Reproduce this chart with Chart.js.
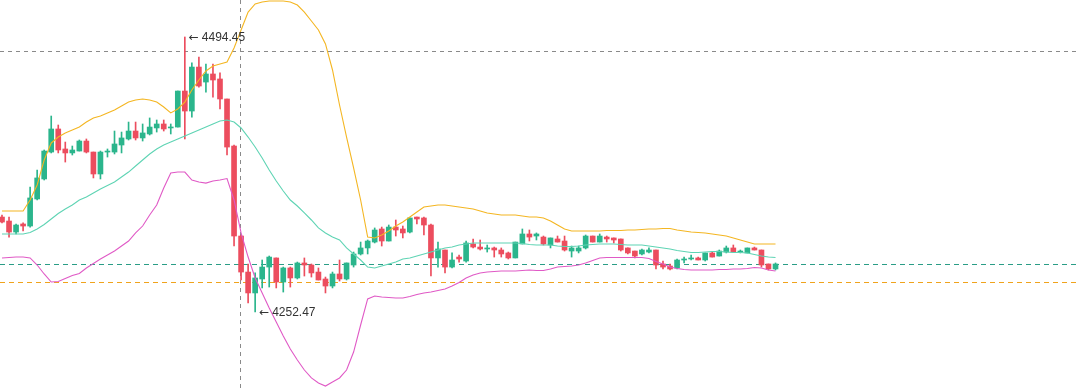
<!DOCTYPE html>
<html>
<head>
<meta charset="utf-8">
<script src="https://cdn.jsdelivr.net/npm/chart.js@4/dist/chart.umd.min.js"></script>
<style>
  html, body { margin: 0; padding: 0; background: #fff; }
  .wrap { width: 1080px; height: 391px; position: relative; }
</style>
</head>
<body>
<div class="wrap"><canvas class="js-chart"></canvas></div>
<script>
// ===== candles (one per bar, index = position) =====
const opens = [
  4336.0, 4332.5, 4322.8, 4329.9, 4328.1, 4351.9, 4369.5, 4393.2, 4413.5, 4395.9,
  4392.4, 4394.1, 4402.9, 4393.2, 4373.9, 4393.2, 4393.2, 4399.4, 4404.7, 4411.7,
  4405.6, 4409.1, 4414.4, 4417.9, 4414.4, 4415.2, 4446.9, 4429.3, 4468.0, 4454.8,
  4461.9, 4457.5, 4439.9, 4398.5, 4319.3, 4287.6, 4269.2, 4281.5, 4292.0, 4300.0,
  4278.8, 4291.2, 4282.4, 4295.6, 4293.8, 4287.6, 4281.5, 4275.3, 4285.9, 4281.5,
  4293.8, 4303.5, 4308.8, 4314.0, 4325.5, 4314.9, 4327.2, 4325.5, 4322.8, 4336.0,
  4335.2, 4329.0, 4300.0, 4307.0, 4292.0, 4300.8, 4297.3, 4312.3, 4309.6, 4307.9,
  4308.8, 4307.0, 4304.4, 4300.0, 4312.3, 4321.1, 4319.3, 4318.4, 4311.4, 4316.7,
  4314.9, 4306.1, 4306.1, 4308.8, 4319.3, 4314.0, 4318.4, 4317.6, 4316.7, 4308.8,
  4306.1, 4303.5, 4305.2, 4307.0, 4294.7, 4292.9, 4291.2, 4298.2, 4299.1, 4300.0,
  4298.2, 4304.4, 4301.7, 4305.2, 4308.8, 4305.2, 4304.4, 4308.8, 4307.0, 4294.7,
  4290.3
];
const highs = [
  4337.8, 4336.0, 4329.9, 4330.8, 4362.4, 4377.4, 4395.0, 4424.9, 4417.0, 4402.0,
  4398.5, 4403.8, 4404.7, 4393.2, 4394.1, 4395.9, 4411.7, 4410.8, 4419.6, 4419.6,
  4417.9, 4423.2, 4421.4, 4421.4, 4417.9, 4446.9, 4494.45, 4471.6, 4476.8, 4470.7,
  4470.7, 4462.8, 4439.9, 4399.4, 4320.2, 4294.7, 4286.8, 4298.2, 4301.7, 4300.0,
  4292.0, 4292.0, 4296.4, 4300.0, 4294.7, 4291.2, 4283.2, 4287.6, 4298.2, 4295.6,
  4305.2, 4314.0, 4315.8, 4326.4, 4327.2, 4329.0, 4333.4, 4328.1, 4335.2, 4336.0,
  4336.0, 4329.9, 4314.0, 4307.0, 4304.4, 4302.6, 4314.9, 4316.7, 4315.8, 4311.4,
  4309.6, 4308.8, 4305.2, 4314.0, 4325.5, 4324.6, 4322.0, 4319.3, 4317.6, 4319.3,
  4319.3, 4310.5, 4310.5, 4320.2, 4319.3, 4321.1, 4319.3, 4317.6, 4316.7, 4308.8,
  4306.1, 4307.9, 4308.8, 4307.0, 4297.3, 4294.7, 4299.1, 4300.8, 4302.6, 4300.8,
  4304.4, 4305.2, 4307.0, 4310.5, 4311.4, 4307.0, 4308.8, 4309.6, 4307.0, 4294.7,
  4295.6
];
const lows = [
  4330.8, 4318.4, 4321.1, 4323.7, 4327.2, 4351.0, 4368.6, 4392.4, 4392.4, 4384.4,
  4390.6, 4394.1, 4392.4, 4370.4, 4369.5, 4388.8, 4391.5, 4392.4, 4403.8, 4403.8,
  4402.9, 4408.2, 4410.8, 4411.7, 4409.1, 4415.2, 4404.7, 4424.0, 4450.4, 4446.0,
  4441.6, 4431.1, 4390.6, 4310.5, 4280.6, 4260.4, 4252.47, 4273.6, 4274.4, 4273.6,
  4270.0, 4274.4, 4281.5, 4284.1, 4283.2, 4280.6, 4269.2, 4273.6, 4279.7, 4280.6,
  4292.0, 4302.6, 4303.5, 4313.2, 4310.5, 4314.9, 4319.3, 4317.6, 4322.0, 4329.9,
  4320.2, 4284.1, 4292.0, 4286.8, 4291.2, 4296.4, 4296.4, 4308.8, 4307.0, 4305.2,
  4300.8, 4300.8, 4299.1, 4300.0, 4312.3, 4314.9, 4315.8, 4311.4, 4308.8, 4314.0,
  4306.1, 4300.8, 4304.4, 4307.9, 4314.0, 4314.0, 4314.0, 4313.2, 4306.1, 4303.5,
  4300.0, 4302.6, 4304.4, 4290.3, 4290.3, 4289.4, 4290.3, 4295.6, 4298.2, 4298.2,
  4297.3, 4300.8, 4301.7, 4304.4, 4305.2, 4304.4, 4304.4, 4307.0, 4292.0, 4289.4,
  4289.4
];
const closes = [
  4331.6, 4322.8, 4329.0, 4328.1, 4352.8, 4370.4, 4394.1, 4413.5, 4395.0, 4392.4,
  4395.0, 4402.9, 4393.2, 4373.9, 4393.2, 4394.1, 4400.3, 4405.6, 4411.7, 4405.6,
  4410.0, 4415.2, 4417.9, 4413.5, 4415.2, 4446.9, 4429.3, 4468.0, 4451.3, 4461.9,
  4456.6, 4439.9, 4397.6, 4319.3, 4287.6, 4269.2, 4282.4, 4292.0, 4300.8, 4278.8,
  4291.2, 4282.4, 4295.6, 4293.8, 4286.8, 4280.6, 4275.3, 4285.9, 4281.5, 4295.6,
  4303.5, 4308.8, 4314.9, 4324.6, 4314.9, 4327.2, 4324.6, 4322.0, 4335.2, 4334.3,
  4329.0, 4300.0, 4307.9, 4292.0, 4298.2, 4299.1, 4313.2, 4309.6, 4307.9, 4308.8,
  4307.0, 4303.5, 4300.0, 4314.0, 4321.1, 4318.4, 4321.1, 4312.3, 4317.6, 4314.0,
  4307.0, 4308.8, 4308.8, 4319.3, 4314.0, 4319.3, 4316.7, 4315.8, 4307.0, 4304.4,
  4301.7, 4307.0, 4307.0, 4293.8, 4292.0, 4290.3, 4298.2, 4299.1, 4300.0, 4298.2,
  4304.4, 4300.8, 4306.1, 4308.8, 4305.2, 4306.1, 4308.8, 4307.0, 4293.8, 4290.3,
  4294.7
];

// ===== bollinger bands =====
const upperBand = [
  4341.3, 4341.3, 4341.3, 4341.3, 4351.0, 4364.2, 4386.2, 4401.2, 4406.4, 4410.0,
  4412.6, 4415.2, 4419.6, 4423.2, 4424.9, 4427.6, 4430.2, 4433.7, 4437.2, 4439.0,
  4439.9, 4439.0, 4437.2, 4432.8, 4427.6, 4431.1, 4437.2, 4447.8, 4456.6, 4464.5,
  4468.9, 4470.7, 4472.4, 4484.8, 4500.6, 4516.4, 4523.5, 4525.2, 4526.1, 4526.1,
  4526.1, 4525.2, 4522.6, 4516.4, 4508.5, 4500.6, 4488.3, 4465.4, 4434.6, 4406.4,
  4379.2, 4351.0, 4318.4, 4317.6, 4320.2, 4323.7, 4328.1, 4331.6, 4336.0, 4340.4,
  4344.8, 4345.7, 4346.6, 4346.6, 4345.7, 4344.8, 4344.0, 4343.1, 4341.3, 4339.6,
  4338.7, 4337.8, 4337.8, 4337.8, 4336.9, 4336.0, 4336.0, 4335.2, 4332.5, 4329.0,
  4325.5, 4323.7, 4323.7, 4323.7, 4323.7, 4323.7, 4324.2, 4324.2, 4324.2, 4324.6,
  4324.6, 4325.0, 4325.5, 4325.5, 4325.9, 4325.9, 4324.6, 4323.7, 4322.8, 4322.4,
  4322.0, 4321.1, 4320.2, 4319.3, 4317.6, 4315.8, 4314.0, 4312.3, 4312.3, 4312.3,
  4312.3
];
const middleBand = [
  4321.1, 4321.1, 4321.1, 4321.1, 4322.4, 4325.5, 4329.4, 4334.3, 4339.1, 4343.1,
  4346.6, 4351.0, 4353.6, 4357.2, 4360.7, 4363.8, 4366.8, 4371.2, 4375.6, 4380.9,
  4386.2, 4391.5, 4395.9, 4399.4, 4402.0, 4404.7, 4407.3, 4410.0, 4412.6, 4415.2,
  4417.9, 4420.5, 4421.4, 4419.6, 4414.4, 4406.4, 4397.6, 4388.0, 4377.4, 4367.7,
  4358.9, 4351.0, 4345.7, 4339.6, 4333.4, 4326.4, 4322.0, 4318.4, 4315.8, 4308.8,
  4303.5, 4298.2, 4292.0, 4291.2, 4292.9, 4294.7, 4296.4, 4299.1, 4300.0, 4301.7,
  4303.5, 4305.2, 4307.0, 4308.8, 4309.6, 4311.4, 4312.3, 4313.2, 4313.2, 4313.2,
  4313.2, 4313.2, 4313.2, 4313.2, 4312.7, 4311.8, 4311.4, 4311.4, 4311.4, 4310.5,
  4310.1, 4310.1, 4310.5, 4311.4, 4311.8, 4312.3, 4312.3, 4312.3, 4311.8, 4311.4,
  4311.4, 4311.4, 4310.5, 4309.6, 4308.8, 4307.9, 4306.6, 4305.7, 4304.8, 4304.8,
  4305.2, 4305.7, 4305.7, 4305.2, 4304.8, 4304.8, 4304.4, 4303.0, 4301.7, 4300.8,
  4300.4
];
const lowerBand = [
  4300.0, 4300.4, 4300.8, 4300.8, 4300.0, 4293.8, 4285.9, 4278.8, 4279.3, 4281.9,
  4284.6, 4286.3, 4291.2, 4295.1, 4299.1, 4302.6, 4306.1, 4310.5, 4314.9, 4322.0,
  4328.1, 4337.8, 4346.6, 4361.6, 4374.8, 4375.6, 4375.6, 4368.6, 4366.8, 4365.9,
  4367.7, 4368.6, 4369.9, 4351.0, 4322.0, 4300.8, 4282.4, 4269.2, 4256.0, 4243.6,
  4231.3, 4219.9, 4210.2, 4201.4, 4194.4, 4190.0, 4187.3, 4190.8, 4194.4, 4201.4,
  4217.2, 4241.0, 4263.9, 4266.5, 4265.6, 4265.2, 4264.8, 4264.8, 4266.1, 4267.8,
  4269.2, 4270.0, 4271.4, 4272.7, 4275.3, 4278.4, 4282.4, 4285.0, 4286.8, 4287.6,
  4288.1, 4288.5, 4288.5, 4288.5, 4289.0, 4289.4, 4289.0, 4289.0, 4290.3, 4292.0,
  4292.5, 4292.9, 4293.8, 4295.6, 4297.8, 4300.0, 4300.4, 4300.4, 4300.4, 4300.4,
  4300.4, 4300.4, 4299.5, 4296.9, 4294.7, 4292.0, 4290.7, 4289.8, 4289.4, 4289.4,
  4289.4, 4289.4, 4289.8, 4289.8, 4290.3, 4290.3, 4290.7, 4291.6, 4291.2, 4289.4,
  4288.5
];

// ===== guide levels =====
const crossPrice = 4482.1;     // grey crosshair (horizontal)
const crossIndex = 33.85;      // grey crosshair (vertical)
const lastPrice = 4294.7;      // teal dashed
const otherPrice = 4278.8;     // orange dashed
const maxIndex = 26;
const minIndex = 36;

const GREEN = "#2bb58c";
const RED = "#ec4d5e";

const ctx = document.querySelector(".js-chart").getContext("2d");

const candleColor = (i) => (closes[i] >= opens[i] ? GREEN : RED);

// arrow + price label next to a candle
function priceLabel(c, x, y, value) {
  c.font = '12px "DejaVu Sans", sans-serif';
  c.fillText("\u2190", x, y);
  c.font = '12px "Liberation Sans", Arial, sans-serif';
  c.fillText(value.toFixed(2), x + 13, y);
}

const guides = {
  id: "guides",
  beforeDatasetsDraw(chart) {
    const { ctx, chartArea, scales } = chart;
    const x = scales.x;
    const y = scales.y;
    ctx.save();
    ctx.lineWidth = 1;
    const hline = (price, color, dash) => {
      const py = Math.round(y.getPixelForValue(price)) + 0.5;
      ctx.strokeStyle = color;
      ctx.setLineDash(dash);
      ctx.beginPath();
      ctx.moveTo(chartArea.left, py);
      ctx.lineTo(chartArea.right, py);
      ctx.stroke();
    };
    hline(crossPrice, "#8a8a8a", [4, 4]);
    hline(lastPrice, "#2a9d86", [5, 4]);
    hline(otherPrice, "#f0a31c", [5, 4]);
    const px = Math.round(x.getPixelForValue(crossIndex)) + 0.5;
    ctx.strokeStyle = "#8a8a8a";
    ctx.setLineDash([4, 4]);
    ctx.beginPath();
    ctx.moveTo(px, chartArea.top);
    ctx.lineTo(px, chartArea.bottom);
    ctx.stroke();
    ctx.restore();
  },
  afterDatasetsDraw(chart) {
    const { ctx, scales } = chart;
    ctx.save();
    ctx.fillStyle = "#333";
    ctx.textBaseline = "middle";
    ctx.textAlign = "left";
    priceLabel(ctx, scales.x.getPixelForValue(maxIndex) + 4,
      scales.y.getPixelForValue(highs[maxIndex]) + 1, highs[maxIndex]);
    priceLabel(ctx, scales.x.getPixelForValue(minIndex) + 4,
      scales.y.getPixelForValue(lows[minIndex]) + 1, lows[minIndex]);
    ctx.restore();
  },
};

const band = (values, color) => ({
  type: "line",
  data: values.map((v, i) => ({ x: i, y: v })),
  borderColor: color,
  borderWidth: 1.1,
  pointRadius: 0,
  tension: 0,
  order: 0,
});

new Chart(ctx, {
  type: "bar",
  data: {
    datasets: [
      band(upperBand, "#f4b622"),
      band(middleBand, "#5fd4b4"),
      band(lowerBand, "#e05ac6"),
      {
        // bodies
        data: closes.map((c, i) => ({ x: i, y: [opens[i], c] })),
        backgroundColor: closes.map((c, i) => candleColor(i)),
        barThickness: 5,
        minBarLength: 1,
        grouped: false,
        order: 1,
      },
      {
        // wicks
        data: highs.map((h, i) => ({ x: i, y: [lows[i], h] })),
        backgroundColor: highs.map((h, i) => candleColor(i)),
        barThickness: 1,
        minBarLength: 1,
        grouped: false,
        order: 2,
      },
    ],
  },
  options: {
    responsive: true,
    maintainAspectRatio: false,
    animation: false,
    layout: { padding: 0 },
    plugins: { legend: { display: false }, tooltip: { enabled: false } },
    scales: {
      x: { type: "linear", min: -0.284, max: 153.3, offset: false, display: false },
      y: { min: 4182.92, max: 4527, display: false },
    },
  },
  plugins: [guides],
});
</script>
</body>
</html>
